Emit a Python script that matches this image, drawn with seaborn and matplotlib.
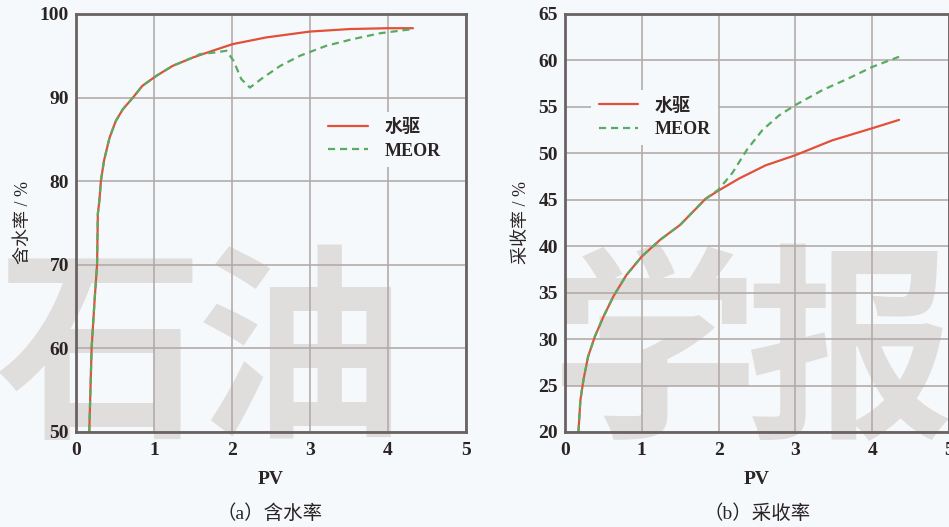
import numpy as np
import pandas as pd
import matplotlib
matplotlib.use("Agg")
import matplotlib.pyplot as plt
import seaborn as sns

# ---- data ----
wc_water_pv = [0.17, 0.20, 0.24, 0.27, 0.28, 0.30, 0.32, 0.36, 0.43, 0.51, 0.60, 0.73, 0.85, 1.03, 1.24, 1.50, 1.75, 2.01, 2.44, 3.00, 3.51, 4.00, 4.32]
wc_water    = [50.0, 60.0, 66.0, 70.0, 76.1, 77.7, 80.1, 82.5, 85.2, 87.2, 88.6, 90.0, 91.4, 92.6, 93.8, 94.8, 95.6, 96.4, 97.2, 97.9, 98.2, 98.3, 98.3]
wc_meor_pv  = [0.17, 0.20, 0.24, 0.27, 0.28, 0.30, 0.32, 0.36, 0.43, 0.51, 0.60, 0.73, 0.85, 1.03, 1.24, 1.50, 1.59, 1.78, 1.93, 2.02, 2.12, 2.23, 2.40, 2.62, 2.87, 3.21, 3.55, 3.90, 4.15, 4.32]
wc_meor     = [50.0, 60.0, 66.0, 70.0, 76.1, 77.7, 80.1, 82.5, 85.2, 87.2, 88.6, 90.0, 91.4, 92.6, 93.8, 94.8, 95.2, 95.4, 95.6, 94.4, 92.2, 91.2, 92.4, 93.8, 95.0, 96.2, 97.0, 97.7, 98.0, 98.2]

rf_water_pv = [0.175, 0.20, 0.24, 0.30, 0.39, 0.50, 0.63, 0.80, 1.00, 1.24, 1.50, 1.83, 2.00, 2.27, 2.61, 3.00, 3.48, 4.00, 4.35]
rf_water    = [20.0, 23.4, 25.6, 28.1, 30.3, 32.4, 34.6, 36.9, 38.9, 40.7, 42.3, 45.1, 46.0, 47.3, 48.7, 49.8, 51.4, 52.7, 53.6]
rf_meor_pv  = [0.175, 0.20, 0.24, 0.30, 0.39, 0.50, 0.63, 0.80, 1.00, 1.24, 1.50, 1.83, 2.00, 2.18, 2.37, 2.57, 2.79, 3.00, 3.35, 3.70, 4.00, 4.35]
rf_meor     = [20.0, 23.4, 25.6, 28.1, 30.3, 32.4, 34.6, 36.9, 38.9, 40.7, 42.3, 45.1, 46.1, 47.9, 50.4, 52.5, 54.1, 55.2, 56.8, 58.1, 59.3, 60.4]

series_names = ["水驱", "MEOR"]
x_ticks = [0, 1, 2, 3, 4, 5]
wc_ticks = [50, 60, 70, 80, 90, 100]
rf_ticks = [20, 25, 30, 35, 40, 45, 50, 55, 60, 65]
xlabel = "PV"
ylabel_a = "含水率 / %"
ylabel_b = "采收率 / %"
caption_a = "（a）含水率"
caption_b = "（b）采收率"
watermark = ["石", "油", "学", "报"]

# ---- style ----
sns.set_style("ticks")
plt.rcParams["font.family"] = ["Liberation Serif", "Noto Sans CJK SC"]
BG = "#f6f9fb"
RED = "#e2503a"
GREEN = "#5aaa62"
GRID = "#b3aba9"
SPINE = "#6b6262"
TXT = "#2b2424"

fig = plt.figure(figsize=(9.49, 5.27), dpi=100, facecolor=BG)
W, H = 949, 527

def px_axes(x0, y0, x1, y1):
    return fig.add_axes([x0 / W, 1 - y1 / H, (x1 - x0) / W, (y1 - y0) / H])

ax1 = px_axes(76, 14, 466, 432)
ax2 = px_axes(565, 14, 949, 432)

df_a = pd.concat([
    pd.DataFrame({"PV": wc_water_pv, "val": wc_water, "s": series_names[0]}),
    pd.DataFrame({"PV": wc_meor_pv, "val": wc_meor, "s": series_names[1]}),
])
df_b = pd.concat([
    pd.DataFrame({"PV": rf_water_pv, "val": rf_water, "s": series_names[0]}),
    pd.DataFrame({"PV": rf_meor_pv, "val": rf_meor, "s": series_names[1]}),
])

for ax, df, yt, ylab, leg_anchor in [
    (ax1, df_a, wc_ticks, ylabel_a, (0.605, 0.70)),
    (ax2, df_b, rf_ticks, ylabel_b, (0.045, 0.752)),
]:
    ax.set_facecolor("none")
    sns.lineplot(data=df, x="PV", y="val", hue="s", style="s",
                 palette={series_names[0]: RED, series_names[1]: GREEN},
                 dashes={series_names[0]: "", series_names[1]: (3.2, 2.2)},
                 linewidth=1.6, ax=ax, sort=False, estimator=None)
    ax.set_xlim(x_ticks[0], x_ticks[-1])
    ax.set_ylim(yt[0], yt[-1])
    ax.set_xticks(x_ticks)
    ax.set_yticks(yt)
    ax.grid(True, color=GRID, linewidth=1.2)
    ax.set_axisbelow(True)
    for sp in ax.spines.values():
        sp.set_color(SPINE)
        sp.set_linewidth(2.0)
        sp.set_visible(True)
    ax.tick_params(axis="x", length=0, labelsize=14, colors=TXT, pad=7)
    ax.tick_params(axis="y", length=0, labelsize=14, colors=TXT, pad=5)
    for lab in ax.get_xticklabels() + ax.get_yticklabels():
        lab.set_fontweight("bold")
    ax.set_xlabel(xlabel, fontsize=14, color=TXT, fontweight="bold", labelpad=9)
    ax.set_ylabel(ylab, fontsize=13, color=TXT, labelpad=6)
    leg = ax.legend(loc="center left", bbox_to_anchor=leg_anchor, frameon=True,
                    fontsize=13, handlelength=2.2, handletextpad=0.9,
                    labelspacing=0.35, borderpad=0.4)
    leg.get_frame().set_facecolor(BG)
    leg.get_frame().set_edgecolor("none")
    leg.get_frame().set_alpha(1.0)
    for t in leg.get_texts():
        t.set_color(TXT)
        t.set_fontweight("bold")

fig.text(270 / W, 1 - 514 / H, caption_a, ha="center", va="center", fontsize=14, color=TXT)
fig.text(757 / W, 1 - 514 / H, caption_b, ha="center", va="center", fontsize=14, color=TXT)

# watermark behind the plots
for ch, xc in zip(watermark, [100, 300, 655, 850]):
    fig.text(xc / W, 1 - 360 / H, ch, ha="center", va="center", fontsize=150,
             color="#e0dedc", family=["Noto Sans CJK SC"], fontweight="bold", zorder=-5)

fig.savefig("out.png", dpi=100, facecolor=BG)
